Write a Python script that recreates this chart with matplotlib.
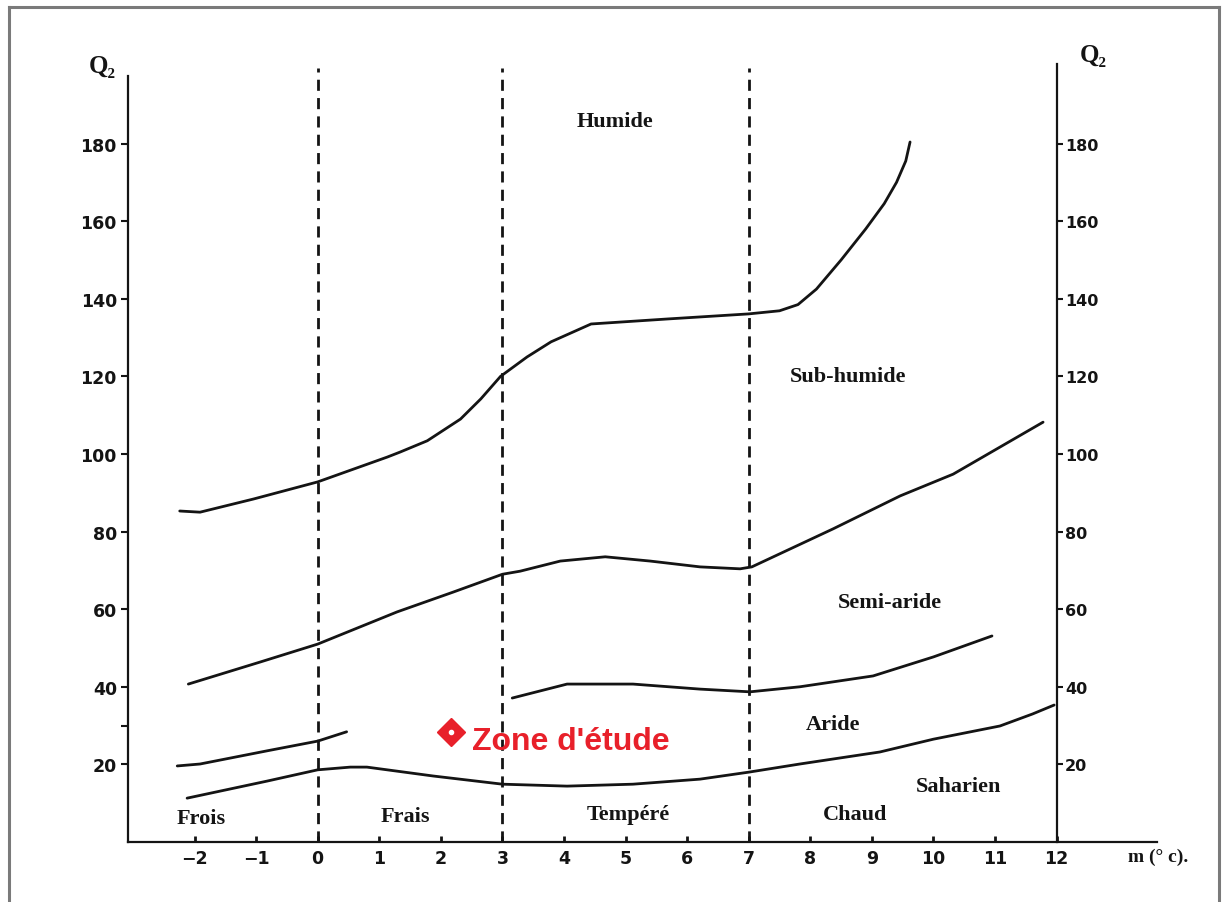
import numpy as np
import matplotlib.pyplot as plt
from matplotlib.lines import Line2D

# limites des etages bioclimatiques (m en °C, Q2)
x_hum = [-2.24, -1.91, -1.04, 0.0, 1.13, 1.34, 1.78, 2.32, 2.65, 2.97, 3.4, 3.79, 4.44, 5.69, 7.0,
         7.5, 7.8, 8.1, 8.5, 8.9, 9.2, 9.4, 9.55, 9.62]
y_hum = [85.3, 85.0, 88.4, 92.8, 99.2, 100.5, 103.4, 109.0, 114.2, 120.0, 125.0, 128.9, 133.5, 134.8, 136.1,
         136.9, 138.5, 142.5, 150.0, 158.0, 164.5, 170.0, 175.5, 180.4]

x_sub = [-2.1, -0.93, 0.0, 1.29, 2.2, 3.0, 3.29, 3.94, 4.67, 5.4, 6.21, 6.86, 7.05, 8.37, 9.46, 10.32, 11.78]
y_sub = [40.7, 46.4, 51.0, 59.3, 64.4, 69.0, 69.8, 72.4, 73.5, 72.4, 70.9, 70.4, 70.9, 80.7, 89.2, 94.8, 108.2]

x_semi_a = [-2.28, -1.91, -0.82, 0.0, 0.47]
y_semi_a = [19.6, 20.1, 23.5, 26.0, 28.4]
x_semi_b = [3.16, 4.05, 5.12, 6.21, 7.02, 7.83, 9.02, 10.0, 10.95]
y_semi_b = [37.1, 40.7, 40.7, 39.4, 38.7, 40.0, 42.8, 47.7, 53.1]

x_ari = [-2.12, -0.82, 0.0, 0.53, 0.8, 1.88, 3.0, 4.05, 5.12, 6.21, 7.0, 7.83, 9.13, 10.0, 11.08, 11.61, 11.96]
y_ari = [11.3, 15.7, 18.6, 19.3, 19.3, 17.0, 14.9, 14.4, 14.9, 16.2, 18.0, 20.1, 23.2, 26.5, 29.9, 33.0, 35.3]

# limites des variantes thermiques
m_limits = [0, 3, 7]

etages = ["Humide", "Sub-humide", "Semi-aride", "Aride", "Saharien"]
etages_x = [4.83, 8.61, 9.29, 8.37, 10.4]
etages_y = [185.8, 120.1, 61.9, 30.4, 14.4]

variantes = ["Frois", "Frais", "Tempéré", "Chaud"]
variantes_x = [-1.89, 1.42, 5.04, 8.73]
variantes_y = [6.2, 6.7, 7.2, 7.2]

station_m, station_q = 2.17, 28.4

xticks = list(range(-2, 13))
xtick_labels = [str(v).replace("-", "\u2212") for v in xticks]
yticks = [20, 40, 60, 80, 100, 120, 140, 160, 180]

ink = "#141414"
serif = ["Liberation Serif", "DejaVu Serif"]

fig = plt.figure(figsize=(12.23, 9.03), dpi=100)
ax = fig.add_axes([128 / 1223, 60 / 903, 1029 / 1223, 778 / 903])
ax.set_xlim(-3.08, 13.63)
ax.set_ylim(0, 200.5)

for xs, ys in [(x_hum, y_hum), (x_sub, y_sub), (x_semi_a, y_semi_a),
               (x_semi_b, y_semi_b), (x_ari, y_ari)]:
    ax.plot(xs, ys, color=ink, lw=2.0, solid_capstyle="round",
            solid_joinstyle="round")

for m in m_limits:
    ax.plot([m, m], [0, 199.5], color=ink, lw=2.0, linestyle=(0, (4, 2.6)))

ax.spines["top"].set_visible(False)
ax.spines["right"].set_visible(False)
ax.spines["left"].set_bounds(0, 197.4)
for s in ["left", "bottom"]:
    ax.spines[s].set_linewidth(1.6)
    ax.spines[s].set_color(ink)

ax.set_xticks(xticks)
ax.set_xticklabels(xtick_labels)
ax.tick_params(axis="x", direction="in", length=4, width=2, colors=ink, pad=5,
               labelsize=12.5)
ax.set_yticks(yticks)
ax.set_yticks([30], minor=True)
ax.tick_params(axis="y", which="both", direction="out", length=5, width=1.5,
               colors=ink, pad=3, labelsize=12.5)
for lab in ax.get_xticklabels() + ax.get_yticklabels():
    lab.set_fontweight("bold")

# second axe vertical a m = 12
pos = (12 - (-3.08)) / (13.63 - (-3.08))
sec = ax.secondary_yaxis(pos)
sec.spines["right"].set_linewidth(1.6)
sec.spines["right"].set_color(ink)
sec.set_yticks(yticks)
sec.tick_params(axis="y", direction="out", length=4, width=1.5, colors=ink,
                pad=2, labelsize=11.5)
for lab in sec.get_yticklabels():
    lab.set_fontweight("bold")

for name, x, y in zip(etages, etages_x, etages_y):
    ax.text(x, y, name, ha="center", va="center", fontsize=16,
            fontweight="bold", family=serif, color=ink)
for name, x, y in zip(variantes, variantes_x, variantes_y):
    ax.text(x, y, name, ha="center", va="center", fontsize=16,
            fontweight="bold", family=serif, color=ink)

ax.text(-3.5, 200, "Q₂", ha="center", va="center", fontsize=18,
        fontweight="bold", family=serif, color=ink, clip_on=False)
ax.text(12.59, 203, "Q₂", ha="center", va="center", fontsize=18,
        fontweight="bold", family=serif, color=ink, clip_on=False)
ax.text(13.16, -3.6, "m (° c).", ha="left", va="center", fontsize=14,
        fontweight="bold", family=serif, color=ink, clip_on=False)

# station etudiee
ax.plot(station_m, station_q, marker="D", ms=14, color="#e8202a",
        markeredgecolor="#e8202a")
ax.plot(station_m, station_q, marker="o", ms=3, color="white")
ax.text(station_m + 0.34, station_q - 2.4, "Zone d'étude", ha="left",
        va="center", fontsize=23, fontweight="bold", color="#e8202a",
        family=["Liberation Sans", "DejaVu Sans"])

# cadre gris autour de la figure
frame_kw = dict(color="#7a7a7a", lw=2.2, transform=fig.transFigure)
fig.add_artist(Line2D([9 / 1223, 9 / 1223], [0, 1 - 8 / 903], **frame_kw))
fig.add_artist(Line2D([9 / 1223, 1219 / 1223], [1 - 8 / 903, 1 - 8 / 903], **frame_kw))
fig.add_artist(Line2D([1219 / 1223, 1219 / 1223], [0, 1 - 8 / 903], **frame_kw))

fig.savefig("out.png", dpi=100)
